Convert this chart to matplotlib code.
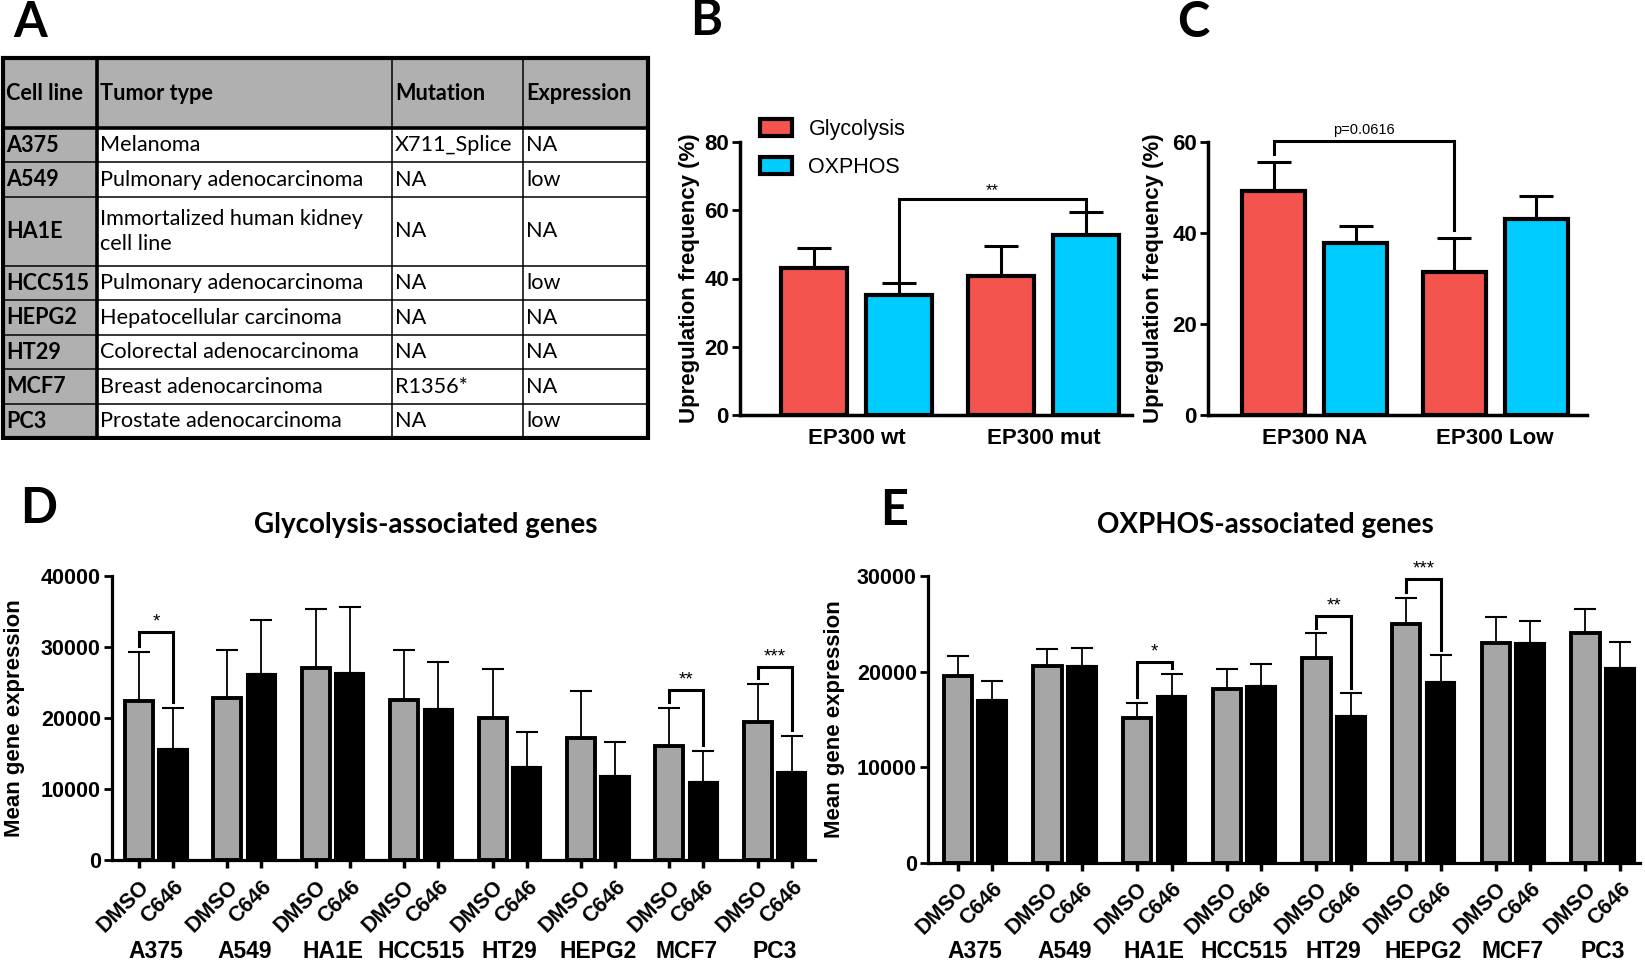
"""
Multi-panel figure: EP300 cell line table and glycolysis / OXPHOS bar charts.
"""

import numpy as np
import matplotlib
matplotlib.use('Agg')
import matplotlib.pyplot as plt
import matplotlib.transforms as mtransforms
from matplotlib.patches import Rectangle

W, H = 1645, 964

RED = '#f3544d'
CYAN = '#00ccff'
GREY = '#a6a6a6'
TABLE_GREY = '#b0b0b0'

ARIAL = 'Liberation Sans'
CALIBRI = 'Lato'

# ---------------- panel A : table
table_header = ['Cell line', 'Tumor type', 'Mutation', 'Expression']
cell_lines = ['A375', 'A549', 'HA1E', 'HCC515', 'HEPG2', 'HT29', 'MCF7', 'PC3']
tumor_types = ['Melanoma', 'Pulmonary adenocarcinoma',
               'Immortalized human kidney\ncell line', 'Pulmonary adenocarcinoma',
               'Hepatocellular carcinoma', 'Colorectal adenocarcinoma',
               'Breast adenocarcinoma', 'Prostate adenocarcinoma']
mutations = ['X711_Splice', 'NA', 'NA', 'NA', 'NA', 'NA', 'R1356*', 'NA']
expression = ['NA', 'low', 'NA', 'low', 'NA', 'NA', 'NA', 'low']

# ---------------- panel B
b_groups = ['EP300 wt', 'EP300 mut']
b_glyco = [43.1, 40.7]
b_glyco_err = [5.8, 8.8]
b_oxphos = [35.2, 52.7]
b_oxphos_err = [3.5, 6.8]

# ---------------- panel C
c_groups = ['EP300 NA', 'EP300 Low']
c_glyco = [49.2, 31.4]
c_glyco_err = [6.4, 7.5]
c_oxphos = [37.8, 43.1]
c_oxphos_err = [3.7, 5.0]

# ---------------- panels D / E
de_lines = ['A375', 'A549', 'HA1E', 'HCC515', 'HT29', 'HEPG2', 'MCF7', 'PC3']
treatments = ['DMSO', 'C646']

d_dmso = [22400, 22860, 27000, 22540, 19930, 17230, 16100, 19390]
d_dmso_err = [6940, 6720, 8400, 7040, 6930, 6570, 5350, 5400]
d_c646 = [15590, 26150, 26300, 21225, 13140, 11830, 10960, 12430]
d_c646_err = [5820, 7700, 9290, 6705, 4930, 4830, 4390, 5080]
d_sig_idx = [0, 6, 7]
d_sig_lab = ['*', '**', '***']
d_sig_y = [32070, 23940, 27230]

e_dmso = [19540, 20580, 15170, 18140, 21450, 24945, 22955, 24000]
e_dmso_err = [2090, 1780, 1570, 2090, 2550, 2785, 2785, 2515]
e_c646 = [17025, 20615, 17440, 18490, 15350, 18940, 23020, 20340]
e_c646_err = [2020, 1850, 2340, 2270, 2375, 2760, 2300, 2720]
e_sig_idx = [2, 4, 5]
e_sig_lab = ['*', '**', '***']
e_sig_y = [21030, 25810, 29650]


def fx(x):
    return x / W


def fy(y):
    return 1 - y / H


def style_axes(ax, lw=2.5, fs=15.5):
    for s in ['top', 'right']:
        ax.spines[s].set_visible(False)
    for s in ['left', 'bottom']:
        ax.spines[s].set_linewidth(lw)
    ax.tick_params(axis='y', direction='out', length=6, width=2, pad=2)
    for lab in ax.get_yticklabels():
        lab.set_fontfamily(ARIAL)
        lab.set_fontweight('bold')
        lab.set_fontsize(fs)


def draw_table(fig):
    ax = fig.add_axes([0, fy(440), fx(660), 440 / H])
    ax.set_xlim(0, 660)
    ax.set_ylim(440, 0)
    ax.axis('off')

    col_x = [3, 97, 392, 523, 648]
    header_h = 70
    unit = 34.5
    row_lines = [t.count('\n') + 1 for t in tumor_types]
    row_y = [58, 58 + header_h]
    for n in row_lines:
        row_y.append(row_y[-1] + n * unit)

    # grey header and first column
    ax.add_patch(Rectangle((col_x[0], row_y[0]), col_x[-1] - col_x[0],
                           row_y[1] - row_y[0], facecolor=TABLE_GREY, edgecolor='none'))
    ax.add_patch(Rectangle((col_x[0], row_y[1]), col_x[1] - col_x[0],
                           row_y[-1] - row_y[1], facecolor=TABLE_GREY, edgecolor='none'))

    # thin inner lines
    for y in row_y[2:-1]:
        ax.plot([col_x[0], col_x[-1]], [y, y], color='k', lw=1.1)
    for x in col_x[2:-1]:
        ax.plot([x, x], [row_y[0], row_y[-1]], color='k', lw=1.1)
    # thick lines
    ax.plot([col_x[0], col_x[-1]], [row_y[1], row_y[1]], color='k', lw=2.6)
    ax.plot([col_x[1], col_x[1]], [row_y[0], row_y[-1]], color='k', lw=2.6)
    ax.add_patch(Rectangle((col_x[0], row_y[0]), col_x[-1] - col_x[0],
                           row_y[-1] - row_y[0], facecolor='none', edgecolor='k', lw=3))

    fs = 15.6
    for j, h in enumerate(table_header):
        ax.text(col_x[j] + 3, (row_y[0] + row_y[1]) / 2, h, fontfamily=CALIBRI,
                fontweight='bold', fontsize=fs, va='center', ha='left')
    cols = [cell_lines, tumor_types, mutations, expression]
    for i in range(len(cell_lines)):
        yc = (row_y[i + 1] + row_y[i + 2]) / 2
        for j, col in enumerate(cols):
            ax.text(col_x[j] + 3, yc, col[i], fontfamily=CALIBRI,
                    fontweight='bold' if j == 0 else 'normal', fontsize=fs,
                    va='center', ha='left', linespacing=1.3)


def bracket(ax, x1, x2, y, y1, y2, label, lw, fs, dy):
    ax.plot([x1, x1, x2, x2], [y1, y, y, y2], color='k', lw=lw,
            solid_joinstyle='miter', zorder=5)
    ax.text((x1 + x2) / 2, y + dy, label, ha='center', va='bottom',
            fontfamily=ARIAL, fontsize=fs, zorder=5)


def pair_panel(fig, rect, groups, glyco, glyco_err, oxphos, oxphos_err,
               ymax, yticks, xlim, gap, ylabel_x):
    ax = fig.add_axes(rect)
    x = np.arange(len(groups)) * gap
    xg = x - 0.5
    xo = x + 0.5
    bg = ax.bar(xg, glyco, 0.77, color=RED, edgecolor='k', lw=3, zorder=3,
                label='Glycolysis')
    bo = ax.bar(xo, oxphos, 0.77, color=CYAN, edgecolor='k', lw=3, zorder=3,
                label='OXPHOS')
    ax.errorbar(xg, glyco, yerr=[np.zeros(len(glyco)), glyco_err], fmt='none',
                ecolor='k', elinewidth=2.2, capsize=12.5, capthick=2.2, zorder=2)
    ax.errorbar(xo, oxphos, yerr=[np.zeros(len(oxphos)), oxphos_err], fmt='none',
                ecolor='k', elinewidth=2.2, capsize=12.5, capthick=2.2, zorder=2)
    ax.set_xlim(*xlim)
    ax.set_ylim(0, ymax)
    ax.set_yticks(yticks)
    ax.set_xticks(x)
    ax.set_xticklabels(groups, fontfamily=ARIAL, fontweight='bold', fontsize=16)
    ax.tick_params(axis='x', length=0, pad=9)
    style_axes(ax, fs=16)
    ax.set_ylabel('Upregulation frequency (%)', fontfamily=ARIAL,
                  fontweight='bold', fontsize=16, va='center')
    ax.yaxis.set_label_coords(ylabel_x, 0.5)
    return ax, x, xg, xo, bg, bo


def treat_panel(fig, rect, dmso, dmso_err, c646, c646_err, ymax, ystep, xlim,
                ylabel_x, sig_idx, sig_lab, sig_y):
    ax = fig.add_axes(rect)
    gap = 2.6
    centers = np.arange(len(de_lines)) * gap
    xd = centers - 0.5
    xc = centers + 0.5
    ax.bar(xd, dmso, 0.82, color=GREY, edgecolor='k', lw=2.8, zorder=3)
    ax.bar(xc, c646, 0.86, color='k', edgecolor='k', lw=1.5, zorder=3)
    ax.errorbar(xd, dmso, yerr=[np.zeros(len(dmso)), dmso_err], fmt='none',
                ecolor='k', elinewidth=1.3, capsize=8, capthick=1.5, zorder=2)
    ax.errorbar(xc, c646, yerr=[np.zeros(len(c646)), c646_err], fmt='none',
                ecolor='k', elinewidth=1.3, capsize=8, capthick=1.5, zorder=2)
    ax.set_xlim(*xlim)
    ax.set_ylim(0, ymax)
    ax.set_yticks(np.arange(0, ymax + 1, ystep))
    ticks = np.ravel(np.column_stack([xd, xc]))
    ax.set_xticks(ticks)
    ax.set_xticklabels(treatments * len(de_lines), rotation=45, ha='right',
                       va='top', rotation_mode='anchor', fontfamily=ARIAL,
                       fontweight='bold', fontsize=15.5)
    style_axes(ax, lw=2.3)
    ax.tick_params(axis='x', direction='out', length=6, width=2.5, pad=5.5)
    ax.set_ylabel('Mean gene expression', fontfamily=ARIAL, fontweight='bold',
                  fontsize=16, va='center')
    ax.yaxis.set_label_coords(ylabel_x, 0.5)

    trans = mtransforms.blended_transform_factory(ax.transData, fig.transFigure)
    for c, name in zip(centers, de_lines):
        ax.text(c, fy(952), name, transform=trans, ha='center', va='center',
                fontfamily=ARIAL, fontweight='bold', fontsize=16.5)

    pad = 0.02 * ymax
    for i, lab, y in zip(sig_idx, sig_lab, sig_y):
        bracket(ax, xd[i], xc[i], y, dmso[i] + dmso_err[i] + pad,
                c646[i] + c646_err[i] + pad, lab, 2.2, 13.5, 0.005 * ymax)
    return ax


fig = plt.figure(figsize=(W / 100, H / 100), dpi=100)

draw_table(fig)

# ---- B
axb, xb, xbg, xbo, bg, bo = pair_panel(
    fig, [fx(740), fy(415), 392 / W, 273 / H], b_groups, b_glyco, b_glyco_err,
    b_oxphos, b_oxphos_err, 80, [0, 20, 40, 60, 80], (-1.37, 3.24), 2.2, -0.128)
bracket(axb, xbo[0], xbo[1], 63.3, b_oxphos[0] + b_oxphos_err[0],
        b_oxphos[1] + b_oxphos_err[1], '**', 2.2, 12, 0.3)
axb.legend(handles=[bg, bo], loc='upper left',
           bbox_to_anchor=(fx(760), fy(119)), bbox_transform=fig.transFigure,
           frameon=False, prop={'family': ARIAL, 'size': 15.5},
           handlelength=1.5, handleheight=0.85, handletextpad=0.75,
           labelspacing=0.8, borderpad=0, borderaxespad=0)

# ---- C
axc, xc_, xcg, xco, _, _ = pair_panel(
    fig, [fx(1208), fy(415), 379 / W, 273 / H], c_groups, c_glyco, c_glyco_err,
    c_oxphos, c_oxphos_err, 60, [0, 20, 40, 60], (-1.30, 3.32), 2.2, -0.145)
bracket(axc, xcg[0], xcg[1], 60.2, c_glyco[0] + c_glyco_err[0] + 1.8,
        c_glyco[1] + c_glyco_err[1] + 1.8, 'p=0.0616', 2.2, 10.5, 0.8)
for ax in (axb, axc):
    ax.spines['left'].set_bounds(0, ax.get_ylim()[1])
    for line in ax.lines:
        line.set_clip_on(False)

# ---- D / E
axd = treat_panel(fig, [fx(112), fy(860), 703 / W, 284 / H], d_dmso, d_dmso_err,
                  d_c646, d_c646_err, 40000, 10000, (-1.29, 19.38), -0.138,
                  d_sig_idx, d_sig_lab, d_sig_y)
axe = treat_panel(fig, [fx(928), fy(862.7), 712 / W, 286.7 / H], e_dmso,
                  e_dmso_err, e_c646, e_c646_err, 30000, 10000, (-1.36, 19.28),
                  -0.131, e_sig_idx, e_sig_lab, e_sig_y)

fig.text(fx(426), fy(533), 'Glycolysis-associated genes', ha='center',
         va='baseline', fontfamily=CALIBRI, fontweight='bold', fontsize=20)
fig.text(fx(1265), fy(533), 'OXPHOS-associated genes', ha='center',
         va='baseline', fontfamily=CALIBRI, fontweight='bold', fontsize=20)

# panel letters
for letter, x, y in [('A', 13, 37), ('B', 690, 35), ('C', 1177, 37),
                     ('D', 20, 523), ('E', 880, 525)]:
    fig.text(fx(x), fy(y), letter, ha='left', va='baseline', fontfamily=CALIBRI,
             fontweight='bold', fontsize=35)

fig.savefig('out.png', dpi=100)
